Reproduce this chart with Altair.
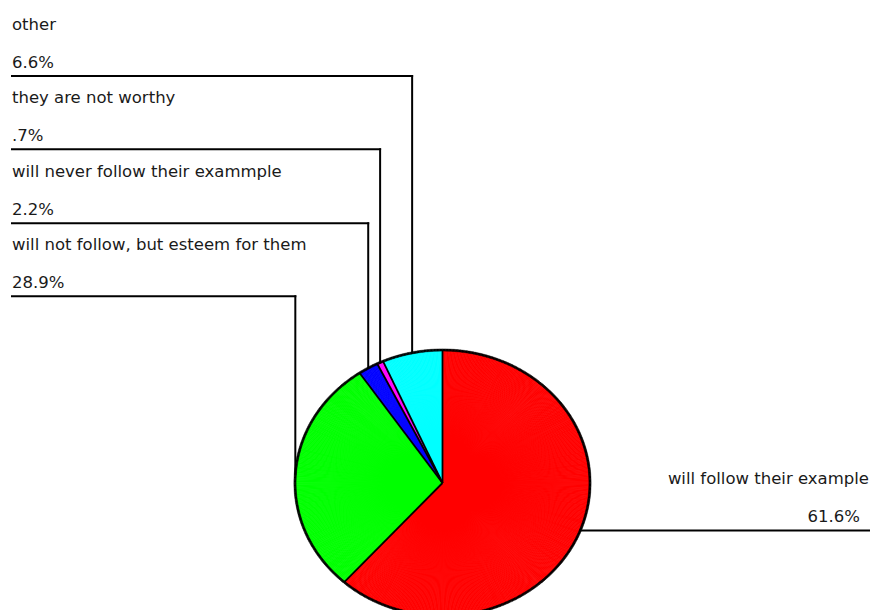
import altair as alt
import pandas as pd

# ---------------- data ----------------
categories = [
    "will follow their example",
    "will not follow, but esteem for them",
    "will never follow their exammple",
    "they are not worthy",
    "other",
]
percents = [61.6, 28.9, 2.2, 0.7, 6.6]
pct_labels = ["61.6%", "28.9%", "2.2%", ".7%", "6.6%"]
colors = ["#ff0000", "#00ff00", "#0000ff", "#ff00ff", "#00ffff"]

# ---------------- layout (chart pixels) ----------------
W, H = 862, 602
CX, CY = 434.5, 475        # pie centre
RX, RY = 147.5, 133        # pie is drawn slightly flattened (ellipse)
label_side = ["right", "left", "left", "left", "left"]
label_row_y = [0, 288.3, 215.3, 141.3, 68]   # y of leader rows for left labels
LEFT_X = 4
RIGHT_END = 861
NAME_RIGHT_X = 861
PCT_RIGHT_X = 852
STEP = 0.01
FONT = "DejaVu Sans"
FSIZE = 16.5
TXT = "#1a1a1a"

df = pd.DataFrame({
    "cat": categories,
    "pct": percents,
    "lab": pct_labels,
    "order": list(range(len(categories))),
    "side": label_side,
    "rowy": label_row_y,
})

color_scale = alt.Scale(domain=categories, range=colors)

base = (
    alt.Chart(df)
    .transform_window(cum="sum(pct)", sort=[alt.SortField("order")], frame=[None, 0])
    .transform_joinaggregate(total="sum(pct)")
    .transform_calculate(
        a0="2*PI*(datum.cum - datum.pct)/datum.total",
        a1="2*PI*datum.cum/datum.total",
    )
    .transform_calculate(
        mid="(datum.a0 + datum.a1)/2",
    )
    .transform_calculate(
        xm=f"{CX} + {RX}*sin(datum.mid)",
        ym=f"{CY} - {RY}*cos(datum.mid)",
    )
)

# sub-slices so that an elliptical pie can be drawn with arc marks
sub = (
    base.transform_calculate(n=f"ceil((datum.a1 - datum.a0)/{STEP})")
    .transform_calculate(k="sequence(0, datum.n)")
    .transform_flatten(["k"])
    .transform_calculate(
        p0="datum.a0 + (datum.a1 - datum.a0)*datum.k/datum.n",
        p1="datum.a0 + (datum.a1 - datum.a0)*(datum.k + 1)/datum.n",
    )
    .transform_calculate(
        pm="(datum.p0 + datum.p1)/2",
        r0=f"atan2({RX}*sin(datum.p0), {RY}*cos(datum.p0))",
        r1=f"atan2({RX}*sin(datum.p1), {RY}*cos(datum.p1))",
    )
    .transform_calculate(
        t0="datum.p0 + atan2(sin(datum.r0 - datum.p0), cos(datum.r0 - datum.p0))",
        t1="datum.p1 + atan2(sin(datum.r1 - datum.p1), cos(datum.r1 - datum.p1))",
        rm=f"sqrt(pow({RX}*sin(datum.pm), 2) + pow({RY}*cos(datum.pm), 2))",
    )
    .transform_calculate(ro="datum.rm + 1.1", ri="datum.rm - 1.1")
)

fill = sub.mark_arc(strokeWidth=0.7).encode(
    x=alt.value(CX),
    y=alt.value(CY),
    theta=alt.Theta("t0:Q", scale=None, stack=None),
    theta2="t1:Q",
    radius=alt.Radius("rm:Q", scale=None),
    color=alt.Color("cat:N", scale=color_scale, legend=None),
    stroke=alt.Stroke("cat:N", scale=color_scale, legend=None),
)

ring = sub.mark_arc(color="black", stroke="black", strokeWidth=0.4).encode(
    x=alt.value(CX),
    y=alt.value(CY),
    theta=alt.Theta("t0:Q", scale=None, stack=None),
    theta2="t1:Q",
    radius=alt.Radius("ro:Q", scale=None),
    radius2="ri:Q",
)

radial = base.transform_calculate(
    c_x=f"{CX}",
    c_y=f"{CY}",
    e_x=f"{CX} + {RX}*sin(datum.a0)",
    e_y=f"{CY} - {RY}*cos(datum.a0)",
).mark_rule(color="black", strokeWidth=1.8).encode(
    x=alt.X("c_x:Q", scale=None, axis=None),
    y=alt.Y("c_y:Q", scale=None, axis=None),
    x2="e_x:Q",
    y2="e_y:Q",
)

lead = base.transform_calculate(
    hy="datum.side == 'left' ? datum.rowy : datum.ym",
    hx1=f"datum.side == 'left' ? {LEFT_X} : datum.xm",
    hx2=f"datum.side == 'left' ? datum.xm : {RIGHT_END}",
).transform_calculate(
    ny="datum.hy - 46",
    py="datum.hy - 8.5",
)

hrule = lead.mark_rule(color="black", strokeWidth=2, strokeCap="square").encode(
    x=alt.X("hx1:Q", scale=None, axis=None),
    x2="hx2:Q",
    y=alt.Y("hy:Q", scale=None, axis=None),
)

vrule = lead.transform_filter("datum.side == 'left'").mark_rule(
    color="black", strokeWidth=2, strokeCap="square"
).encode(
    x=alt.X("xm:Q", scale=None, axis=None),
    y=alt.Y("hy:Q", scale=None, axis=None),
    y2="ym:Q",
)

left_lab = lead.transform_filter("datum.side == 'left'")
right_lab = lead.transform_filter("datum.side == 'right'")
tstyle = dict(baseline="alphabetic", font=FONT, fontSize=FSIZE, color=TXT)

name_l = left_lab.mark_text(align="left", **tstyle).encode(
    x=alt.value(LEFT_X), y=alt.Y("ny:Q", scale=None, axis=None), text="cat:N"
)
pct_l = left_lab.mark_text(align="left", **tstyle).encode(
    x=alt.value(LEFT_X), y=alt.Y("py:Q", scale=None, axis=None), text="lab:N"
)
name_r = right_lab.mark_text(align="right", **tstyle).encode(
    x=alt.value(NAME_RIGHT_X), y=alt.Y("ny:Q", scale=None, axis=None), text="cat:N"
)
pct_r = right_lab.mark_text(align="right", **tstyle).encode(
    x=alt.value(PCT_RIGHT_X), y=alt.Y("py:Q", scale=None, axis=None), text="lab:N"
)

chart = (
    alt.layer(fill, radial, ring, hrule, vrule, name_l, pct_l, name_r, pct_r)
    .properties(width=W, height=H, padding=0, autosize=alt.AutoSizeParams(type="none"),
                background="white")
    .configure_view(stroke=None)
)

chart.save("out.html", embed_options={"renderer": "svg", "actions": False})
